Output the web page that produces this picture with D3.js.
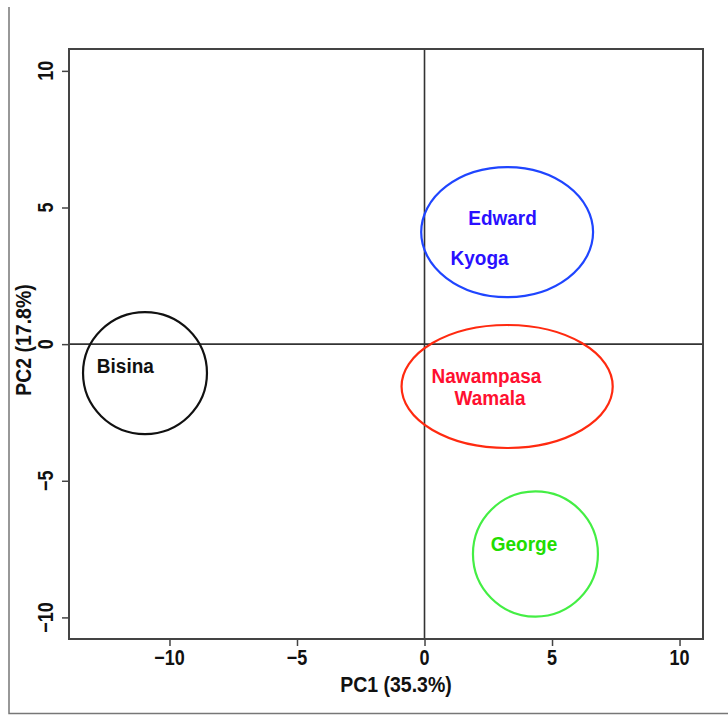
<!DOCTYPE html>
<html>
<head>
<meta charset="utf-8">
<script src="https://d3js.org/d3.v7.min.js"></script>
<style>
  body { margin: 0; background: #fff; }
  text { font-family: "Liberation Sans", Arial, sans-serif; font-weight: bold; }
</style>
</head>
<body>
<div id="pcaViz"></div>
<script>
// groups (ellipses), in PC units
const groups = ["Bisina", "EdwardKyoga", "NawampasaWamala", "George"]
const groupCx = [-10.96, 3.24, 3.24, 4.35]
const groupCy = [-1.06, 4.10, -1.55, -7.68]
const groupRx = [2.43, 3.37, 4.14, 2.45]
const groupRy = [2.23, 2.38, 2.25, 2.29]
const groupColor = ["#111111", "#1f45ff", "#ff2a10", "#44ee44"]

// lake labels
const labels = ["Bisina", "Edward", "Kyoga", "Nawampasa", "Wamala", "George"]
const labelX = [-11.73, 3.06, 2.16, 2.43, 2.57, 3.90]
const labelY = [-0.78, 4.65, 3.18, -1.13, -1.96, -7.30]
const labelColor = ["#111111", "#2a10ff", "#2a10ff", "#ff1030", "#ff1030", "#22dd00"]

// axis ticks
const xTicks = [-10, -5, 0, 5, 10]
const yTicks = [-10, -5, 0, 5, 10]

const W = 728, H = 715
const plot = { left: 69, right: 703, top: 49, bottom: 639 }

const svg = d3.select("#pcaViz")
  .append("svg")
  .attr("width", W)
  .attr("height", H)

const x = d3.scaleLinear().domain([-13.94, 10.92]).range([plot.left, plot.right])
const y = d3.scaleLinear().domain([10.8, -10.79]).range([plot.top, plot.bottom])

const fmt = d => d < 0 ? "\u2212" + Math.abs(d) : String(d)

// outer figure border (left + bottom only)
svg.append("path")
  .attr("d", `M9,7 V713.5 H${W}`)
  .attr("fill", "none")
  .attr("stroke", "#777")
  .attr("stroke-width", 1.5)

// zero lines
svg.append("line")
  .attr("x1", plot.left).attr("x2", plot.right)
  .attr("y1", y(0)).attr("y2", y(0))
  .attr("stroke", "#333").attr("stroke-width", 1.6)
svg.append("line")
  .attr("x1", x(0)).attr("x2", x(0))
  .attr("y1", plot.top).attr("y2", plot.bottom)
  .attr("stroke", "#333").attr("stroke-width", 1.6)

// ellipses
svg.selectAll("ellipse")
  .data(groups)
  .join("ellipse")
  .attr("cx", (d, i) => x(groupCx[i]))
  .attr("cy", (d, i) => y(groupCy[i]))
  .attr("rx", (d, i) => x(groupCx[i] + groupRx[i]) - x(groupCx[i]))
  .attr("ry", (d, i) => y(groupCy[i] - groupRy[i]) - y(groupCy[i]))
  .attr("fill", "none")
  .attr("stroke", (d, i) => groupColor[i])
  .attr("stroke-width", 2.2)

// labels, centred like R's text()
svg.selectAll(".lab")
  .data(labels)
  .join("text")
  .attr("class", "lab")
  .attr("transform", (d, i) => `translate(${x(labelX[i])},${y(labelY[i])}) scale(1,1.1)`)
  .attr("text-anchor", "middle")
  .attr("dy", "0.36em")
  .attr("font-size", 19)
  .attr("fill", (d, i) => labelColor[i])
  .text(d => d)

// plot box
svg.append("rect")
  .attr("x", plot.left).attr("y", plot.top)
  .attr("width", plot.right - plot.left)
  .attr("height", plot.bottom - plot.top)
  .attr("fill", "none")
  .attr("stroke", "#444")
  .attr("stroke-width", 2)

// x axis
const xAxis = svg.append("g")
  .attr("transform", `translate(0,${plot.bottom})`)
  .call(d3.axisBottom(x).tickValues(xTicks).tickSize(7).tickFormat(""))
xAxis.select(".domain").remove()
xAxis.selectAll(".tick line").attr("stroke", "#444").attr("stroke-width", 1.5)

svg.selectAll(".xlab")
  .data(xTicks)
  .join("text")
  .attr("class", "xlab")
  .attr("transform", d => `translate(${x(d)},665) scale(1,1.2)`)
  .attr("text-anchor", "middle")
  .attr("font-size", 18)
  .attr("fill", "#111")
  .text(fmt)

// y axis
const yAxis = svg.append("g")
  .attr("transform", `translate(${plot.left},0)`)
  .call(d3.axisLeft(y).tickValues(yTicks).tickSize(7).tickFormat(""))
yAxis.select(".domain").remove()
yAxis.selectAll(".tick line").attr("stroke", "#444").attr("stroke-width", 1.5)

svg.selectAll(".ylab")
  .data(yTicks)
  .join("text")
  .attr("class", "ylab")
  .attr("transform", d => `translate(53,${y(d)}) rotate(-90) scale(1,1.2)`)
  .attr("text-anchor", "middle")
  .attr("font-size", 18)
  .attr("fill", "#111")
  .text(fmt)

// axis titles
svg.append("text")
  .attr("transform", "translate(396,692) scale(1,1.15)")
  .attr("text-anchor", "middle")
  .attr("font-size", 19.5)
  .attr("fill", "#111")
  .text("PC1 (35.3%)")

svg.append("text")
  .attr("transform", "translate(31,340) rotate(-90) scale(1,1.15)")
  .attr("text-anchor", "middle")
  .attr("font-size", 19.5)
  .attr("fill", "#111")
  .text("PC2 (17.8%)")
</script>
</body>
</html>
